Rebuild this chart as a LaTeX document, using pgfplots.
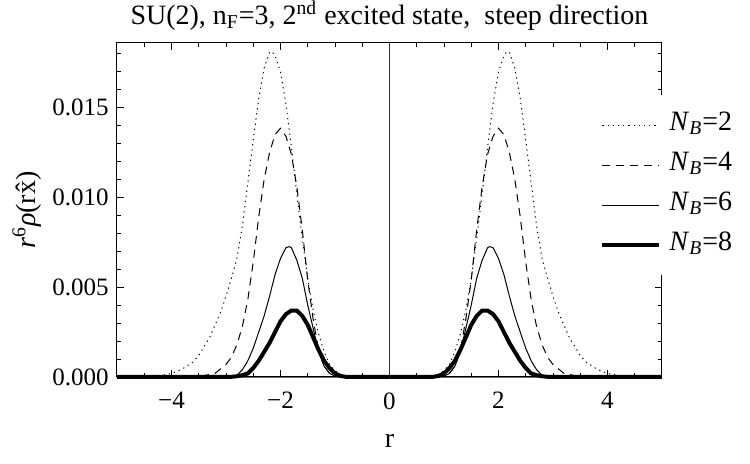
\documentclass[border=0pt]{standalone}
\usepackage{fontspec}
\setmainfont{Liberation Serif}
\usepackage{pgfplots}
\pgfplotsset{compat=1.18}
\usepackage{pgfplotstable}

\pgfplotstableread{
r v
-5.0 0
-4.5 0.00002
-4.2 0.00008
-4.0 0.0002
-3.8 0.00045
-3.6 0.00085
-3.5 0.0012
-3.4 0.0017
-3.3 0.0022
-3.2 0.0029
-3.1 0.0036
-3.0 0.0045
-2.9 0.0055
-2.8 0.0066
-2.7 0.0084
-2.6 0.0108
-2.5 0.0132
-2.4 0.0155
-2.3 0.0172
-2.2 0.0181
-2.15 0.0181
-2.1 0.0179
-2.0 0.0170
-1.9 0.0152
-1.8 0.0128
-1.7 0.0102
-1.6 0.0077
-1.5 0.0055
-1.4 0.0037
-1.3 0.0024
-1.2 0.0014
-1.1 0.0007
-1.0 0.00035
-0.9 0.00015
-0.8 0.00006
-0.6 0.00001
0 0
}\nbtwo

\pgfplotstableread{
r v
-5.0 0
-3.6 0.00002
-3.4 0.00008
-3.2 0.0002
-3.0 0.0007
-2.9 0.0011
-2.8 0.0018
-2.7 0.0028
-2.6 0.0043
-2.5 0.0064
-2.4 0.0089
-2.3 0.0110
-2.2 0.0125
-2.1 0.0135
-2.0 0.01385
-1.9 0.0134
-1.8 0.0124
-1.7 0.0106
-1.6 0.0082
-1.5 0.0054
-1.4 0.0032
-1.3 0.0015
-1.2 0.0006
-1.1 0.0002
-1.0 0.00005
-0.9 0.00001
0 0
}\nbfour

\pgfplotstableread{
r v
-5.0 0
-3.0 0.00002
-2.8 0.0001
-2.7 0.0004
-2.6 0.0009
-2.5 0.0016
-2.4 0.0025
-2.3 0.0034
-2.2 0.0045
-2.1 0.0057
-2.0 0.0066
-1.9 0.0072
-1.84 0.00726
-1.8 0.0072
-1.7 0.0065
-1.6 0.0055
-1.5 0.0040
-1.4 0.0027
-1.3 0.0014
-1.2 0.0006
-1.1 0.0002
-1.0 0.00005
0 0
}\nbsix

\pgfplotstableread{
r v
-5.0 0
-2.9 0.00001
-2.8 0.00004
-2.7 0.0001
-2.6 0.0002
-2.5 0.0005
-2.4 0.0009
-2.3 0.0014
-2.2 0.0019
-2.1 0.0025
-2.0 0.0031
-1.9 0.0035
-1.8 0.0037
-1.7 0.0037
-1.6 0.0034
-1.5 0.0029
-1.4 0.0022
-1.3 0.0015
-1.2 0.0009
-1.1 0.0005
-1.0 0.0002
-0.9 0.00006
-0.8 0.00001
0 0
}\nbeight

\begin{document}
\fontsize{12}{14}\selectfont
\begin{tikzpicture}
\begin{axis}[
  scale only axis, width=272.5pt, height=167pt,
  xmin=-5, xmax=5, ymin=0, ymax=0.0186,
  xtick={-4,-2,0,2,4},
  xticklabels={−4,−2,0,2,4},
  minor xtick={-4.5,-3.5,-3,-2.5,-1.5,-1,-0.5,0.5,1,1.5,2.5,3,3.5,4.5},
  ytick={0,0.005,0.01,0.015},
  yticklabels={0.000,0.005,0.010,0.015},
  minor ytick={0.001,0.002,0.003,0.004,0.006,0.007,0.008,0.009,0.011,0.012,0.013,0.014,0.016,0.017,0.018},
  scaled y ticks=false,
  /pgf/number format/assume math mode=true,
  tick align=inside,
  major tick length=3.5pt, minor tick length=2pt,
  every tick/.style={black, line width=0.4pt},
  axis line style={line width=0.5pt},
  tick label style={font=\rmfamily\fontsize{12.5}{14}\selectfont},
  xticklabel style={yshift=-3.5pt},
  xlabel={r}, ylabel={\textit{r}\textsuperscript{6}\textit{ρ}(r\^{x})},
  label style={font=\rmfamily\fontsize{14}{16}\selectfont},
  xlabel style={at={(axis description cs:0.5,-0.192)}, anchor=center},
  ylabel style={at={(axis description cs:-0.165,0.5)}, anchor=center},
  legend cell align=left,
  legend image code/.code={\draw[#1] (0pt,0pt) -- (28.5pt,0pt);},
  legend style={at={(axis description cs:0.877,0.845)}, anchor=north west,
    draw=none, fill=white, inner xsep=2.5pt, inner ysep=9pt,
    row sep=8pt, column sep=4pt,
    font=\rmfamily\fontsize{14}{16}\selectfont,
    nodes={inner sep=0pt, text height=8.5pt, text depth=3.5pt}},
  clip=false,
]
\addplot[black!80, line width=0.5pt, forget plot] coordinates {(0,0) (0,0.0186)};
\addplot[black!60, line width=0.4pt, forget plot] coordinates {(-5,0) (5,0)};
\addplot[black, line width=0.5pt, dash pattern=on 0.6pt off 2pt] table[x=r,y=v] {\nbtwo};
\addlegendentry{\textit{N}\textsubscript{\textit{B}}=2}
\addplot[black, line width=0.5pt, dash pattern=on 4pt off 3pt] table[x=r,y=v] {\nbfour};
\addlegendentry{\textit{N}\textsubscript{\textit{B}}=4}
\addplot[black, line width=0.5pt] table[x=r,y=v] {\nbsix};
\addlegendentry{\textit{N}\textsubscript{\textit{B}}=6}
\addplot[black, line width=2pt] table[x=r,y=v] {\nbeight};
\addlegendentry{\textit{N}\textsubscript{\textit{B}}=8}
\addplot[black, line width=0.5pt, dash pattern=on 0.6pt off 2pt, forget plot] table[x expr=-\thisrow{r},y=v] {\nbtwo};
\addplot[black, line width=0.5pt, dash pattern=on 4pt off 3pt, forget plot] table[x expr=-\thisrow{r},y=v] {\nbfour};
\addplot[black, line width=0.5pt, forget plot] table[x expr=-\thisrow{r},y=v] {\nbsix};
\addplot[black, line width=2pt, forget plot] table[x expr=-\thisrow{r},y=v] {\nbeight};
\node[anchor=base, inner sep=0pt, font=\rmfamily\fontsize{14}{16}\selectfont] at (axis description cs:0.5,1.055)
  {SU(2), n\textsubscript{F}=3, 2\textsuperscript{nd} excited state,\ \ steep direction};
\end{axis}
\pgfresetboundingbox
\path[use as bounding box] (-58.5pt,-43.5pt) rectangle (316.5pt,188.5pt);
\end{tikzpicture}
\end{document}
